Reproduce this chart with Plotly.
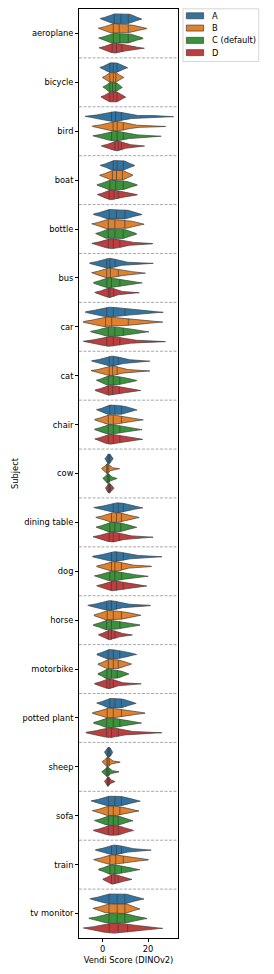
import numpy as np
import plotly.graph_objects as go

# ---------------- data ----------------
subjects = ["aeroplane", "bicycle", "bird", "boat", "bottle", "bus", "car", "cat",
            "chair", "cow", "dining table", "dog", "horse", "motorbike",
            "potted plant", "sheep", "sofa", "train", "tv monitor"]
methods = ["A", "B", "C (default)", "D"]
colors = ["#3274a1", "#e1812c", "#3a923a", "#c03d3e"]

# Vendi scores (DINOv2) per subject, estimated samples
scores_A = [
    [3.8, 4.7, 5.5, 8.0, 10.9, 11.7, 12.4],
    [1.8, 2.9, 3.5, 4.7, 6.1, 6.7, 8.0],
    [1.5, 3.5, 4.3, 5.7, 7.5, 9.0, 22.0],
    [2.8, 4.3, 5.1, 6.4, 8.7, 9.5, 10.3],
    [1.5, 2.5, 3.3, 6.1, 9.4, 10.2, 11.8],
    [1.0, 1.5, 2.1, 3.2, 5.0, 6.0, 15.5],
    [1.0, 1.4, 2.2, 4.7, 9.4, 10.2, 18.2],
    [1.2, 2.5, 3.3, 4.7, 6.5, 7.3, 14.7],
    [1.8, 2.8, 3.6, 5.4, 7.9, 8.7, 10.6],
    [1.9, 2.2, 2.5, 2.8, 3.1, 3.4, 3.7],
    [1.2, 4.3, 5.1, 6.9, 8.7, 9.5, 12.6],
    [3.0, 3.5, 4.3, 6.1, 8.7, 9.5, 18.7],
    [0.0, 1.4, 2.2, 3.9, 5.7, 6.5, 14.5],
    [2.0, 2.1, 2.9, 4.7, 7.2, 8.0, 10.5],
    [1.8, 2.8, 3.6, 5.4, 7.9, 8.7, 10.3],
    [1.75, 2.05, 2.4, 2.7, 3.0, 3.35, 3.65],
    [0.3, 2.1, 2.9, 5.4, 7.9, 8.7, 11.2],
    [2.8, 3.5, 4.3, 6.1, 7.9, 8.7, 15.5],
    [0.5, 2.4, 3.2, 6.4, 9.4, 10.2, 12.2],
]
scores_B = [
    [3.6, 4.3, 5.1, 7.3, 10.9, 11.7, 14.0],
    [2.3, 3.0, 3.4, 4.7, 5.6, 6.0, 7.0],
    [3.2, 4.2, 5.0, 6.4, 8.5, 9.7, 20.0],
    [2.5, 3.9, 4.7, 6.1, 8.4, 9.0, 9.6],
    [1.2, 2.1, 2.9, 5.4, 9.4, 10.2, 12.3],
    [1.0, 1.5, 2.1, 3.4, 6.5, 7.3, 13.0],
    [0.5, 1.0, 1.6, 4.0, 10.9, 11.7, 17.5],
    [1.0, 2.5, 3.3, 4.4, 6.0, 6.8, 14.7],
    [2.0, 2.1, 2.9, 4.7, 7.9, 8.7, 12.5],
    [1.5, 1.7, 1.9, 2.1, 2.5, 2.9, 5.6],
    [1.6, 3.5, 4.3, 6.1, 7.9, 8.7, 11.5],
    [3.2, 3.5, 4.3, 5.4, 7.9, 8.7, 15.6],
    [1.6, 1.7, 2.3, 4.7, 7.9, 8.7, 11.5],
    [1.8, 2.2, 2.8, 4.7, 6.6, 7.2, 9.0],
    [1.4, 1.8, 2.2, 4.7, 7.9, 8.7, 12.8],
    [1.7, 1.8, 2.0, 2.3, 2.7, 3.2, 5.8],
    [0.5, 2.1, 2.9, 4.7, 7.2, 8.0, 11.0],
    [2.0, 2.8, 3.6, 5.8, 8.7, 9.5, 14.2],
    [1.2, 2.4, 3.2, 6.4, 9.4, 10.2, 11.0],
]
scores_C = [
    [3.4, 4.3, 5.1, 7.6, 10.9, 11.7, 12.6],
    [2.3, 3.0, 3.4, 4.4, 5.5, 6.0, 6.5],
    [3.0, 3.6, 4.3, 6.4, 8.6, 9.6, 18.5],
    [2.2, 2.9, 3.5, 5.8, 8.7, 9.5, 10.6],
    [1.8, 2.2, 2.8, 5.4, 8.7, 9.5, 10.0],
    [1.5, 1.6, 2.1, 3.9, 7.2, 8.0, 12.0],
    [1.0, 2.1, 2.9, 5.4, 8.7, 9.5, 14.0],
    [1.8, 2.1, 2.9, 4.7, 7.2, 8.0, 10.6],
    [1.6, 2.1, 2.9, 4.7, 7.2, 8.0, 12.2],
    [1.6, 1.9, 2.2, 2.5, 2.8, 3.2, 4.9],
    [1.6, 2.8, 3.6, 5.4, 7.6, 8.4, 10.6],
    [2.2, 2.8, 3.6, 5.4, 7.9, 8.7, 14.3],
    [1.2, 1.4, 2.0, 3.9, 7.2, 8.0, 11.2],
    [1.6, 1.8, 2.0, 3.9, 6.1, 6.7, 8.0],
    [1.4, 1.6, 2.0, 4.7, 7.2, 8.0, 11.8],
    [1.5, 1.7, 1.9, 2.2, 2.6, 3.0, 5.4],
    [0.6, 2.1, 2.9, 4.7, 6.5, 7.3, 9.2],
    [2.9, 3.0, 3.5, 5.4, 7.9, 8.7, 11.8],
    [0.3, 2.4, 3.2, 6.4, 9.4, 10.2, 13.2],
]
scores_D = [
    [3.3, 3.8, 4.6, 6.1, 8.1, 8.9, 13.5],
    [2.0, 2.9, 3.5, 4.7, 6.1, 6.6, 7.4],
    [4.0, 5.0, 5.8, 6.9, 8.0, 8.6, 14.0],
    [2.0, 2.6, 3.2, 5.0, 6.6, 7.2, 11.0],
    [1.8, 2.2, 2.8, 4.7, 7.2, 8.0, 15.5],
    [1.2, 2.2, 2.8, 3.2, 4.6, 5.2, 11.5],
    [0.2, 1.4, 2.2, 4.7, 7.2, 8.0, 19.0],
    [1.6, 2.1, 2.9, 4.4, 6.9, 7.7, 11.8],
    [1.8, 2.1, 2.9, 4.7, 7.2, 8.0, 12.4],
    [2.2, 2.4, 2.7, 3.0, 3.3, 3.6, 4.1],
    [2.2, 2.5, 3.3, 4.7, 6.9, 7.7, 15.8],
    [2.8, 3.5, 4.3, 6.1, 8.7, 9.5, 14.0],
    [1.8, 2.2, 2.8, 3.9, 5.1, 5.7, 9.5],
    [1.5, 1.6, 2.1, 3.2, 4.4, 5.0, 12.0],
    [0.8, 1.4, 2.2, 3.9, 6.5, 7.3, 18.0],
    [1.9, 2.1, 2.3, 2.5, 2.8, 3.1, 4.3],
    [0.2, 2.1, 2.9, 4.7, 6.5, 7.3, 9.3],
    [3.3, 3.6, 4.2, 5.4, 6.6, 7.2, 9.8],
    [0.0, 2.5, 3.3, 6.8, 10.6, 11.4, 18.0],
]
all_scores = [scores_A, scores_B, scores_C, scores_D]
x_ticks = [0, 20]

# ---------------- layout constants ----------------
PAGE_OFF = 8          # default body margin of the html page
W, H = 274 - PAGE_OFF, 974 - PAGE_OFF
ML, MT = 79 - PAGE_OFF, 8.5 - PAGE_OFF
PW, PH = 99.3, 930.0
MR, MB = W - ML - PW, H - MT - PH
FONT = "DejaVu Sans"
FS = 8.3
EDGE = "#3d3d3d"


def px_x(px):   # page pixel -> paper coordinate
    return (px - PAGE_OFF - ML) / PW


def px_y(py):
    return 1 - (py - PAGE_OFF - MT) / PH


def kde(samples):
    s = np.asarray(samples, float)
    n = len(s)
    bw = s.std(ddof=1) * n ** (-1 / 5)
    grid = np.linspace(s.min() - 2 * bw, s.max() + 2 * bw, 100)
    dens = np.exp(-0.5 * ((grid[:, None] - s[None, :]) / bw) ** 2).sum(1)
    dens /= n * bw * np.sqrt(2 * np.pi)
    return grid, dens


n_h = len(methods)
vwidth = 0.8 / n_h
offsets = (np.arange(n_h) - (n_h - 1) / 2) * vwidth
half = vwidth / 2

fig = go.Figure()
for j, (name, data, col) in enumerate(zip(methods, all_scores, colors)):
    xs, ys, qx, qy = [], [], [], []
    for i, samp in enumerate(data):
        g, d = kde(samp)
        w = d / d.max() * half
        pos = i + offsets[j]
        xs += list(g) + list(g[::-1]) + [g[0], None]
        ys += list(pos - w) + list((pos + w)[::-1]) + [pos - w[0], None]
        for q in np.percentile(samp, [25, 50, 75]):
            wq = float(np.interp(q, g, w))
            qx += [q, q, None]
            qy += [pos - wq, pos + wq, None]
    fig.add_trace(go.Scatter(x=xs, y=ys, mode="lines", fill="toself", fillcolor=col,
                             line=dict(color=EDGE, width=0.7), name=name,
                             hoverinfo="skip", showlegend=False))
    fig.add_trace(go.Scatter(x=qx, y=qy, mode="lines",
                             line=dict(color=EDGE, width=0.7),
                             hoverinfo="skip", showlegend=False))

shapes = []
for i in range(len(subjects) - 1):
    shapes.append(dict(type="line", xref="paper", yref="y", x0=0, x1=1,
                       y0=i + 0.5, y1=i + 0.5,
                       line=dict(color="rgba(128,128,128,0.85)", width=0.8, dash="3px,1.5px")))

# manual legend
shapes.append(dict(type="rect", xref="paper", yref="paper",
                   x0=px_x(183.3), x1=px_x(259.3), y0=px_y(8.3), y1=px_y(61),
                   line=dict(color="#cccccc", width=0.8), fillcolor="rgba(255,255,255,0.8)"))
annotations = []
row_y = [15.3, 27.6, 39.9, 52.2]
for name, col, ry in zip(methods, colors, row_y):
    shapes.append(dict(type="rect", xref="paper", yref="paper",
                       x0=px_x(186.7), x1=px_x(204), y0=px_y(ry - 3), y1=px_y(ry + 3),
                       line=dict(color=EDGE, width=0.7), fillcolor=col))
    annotations.append(dict(xref="paper", yref="paper", x=px_x(210.7), y=px_y(ry),
                            text=name, showarrow=False, xanchor="left", yanchor="middle",
                            font=dict(family=FONT, size=FS, color="black")))

fig.update_layout(
    width=W, height=H,
    margin=dict(l=ML, r=MR, t=MT, b=MB, pad=0, autoexpand=False),
    paper_bgcolor="white", plot_bgcolor="white",
    font=dict(family=FONT, size=FS, color="black"),
    shapes=shapes, annotations=annotations,
    showlegend=False,
)
fig.update_xaxes(range=[-10.4, 33.2], tickvals=x_ticks, ticktext=[str(t) for t in x_ticks],
                 showgrid=False, zeroline=False, showline=True, mirror=True,
                 linecolor="black", linewidth=0.8, ticks="outside", ticklen=3,
                 tickwidth=0.8, tickcolor="black", automargin=False,
                 title=dict(text="Vendi Score (DINOv2)", standoff=4,
                            font=dict(family=FONT, size=FS)))
fig.update_yaxes(range=[len(subjects) - 0.5, -0.5], tickvals=list(range(len(subjects))),
                 ticktext=subjects, showgrid=False, zeroline=False, showline=True,
                 mirror=True, linecolor="black", linewidth=0.8, ticks="outside",
                 ticklen=3, tickwidth=0.8, tickcolor="black", automargin=False,
                 title=dict(text="Subject", standoff=2, font=dict(family=FONT, size=FS)))

fig.write_html("out.html")
